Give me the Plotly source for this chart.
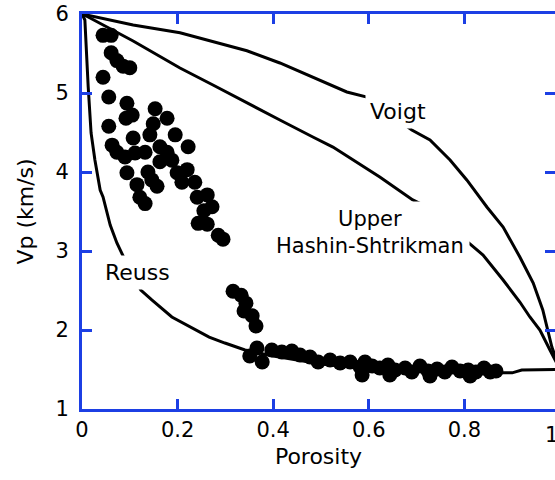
import plotly.graph_objects as go

# Voigt bound (Vp vs porosity)
voigt_phi = [0.0, 0.107, 0.205, 0.274, 0.345, 0.414, 0.483, 0.554, 0.596, 0.690,
             0.728, 0.770, 0.805, 0.847, 0.881, 0.916, 0.944, 0.964, 0.983, 1.0]
voigt_vp = [6.0, 5.861, 5.763, 5.649, 5.535, 5.380, 5.203, 5.013, 4.949, 4.532,
            4.405, 4.152, 3.899, 3.557, 3.304, 2.924, 2.595, 2.253, 1.785, 1.5]

# Upper Hashin-Shtrikman bound
hs_phi = [0.0, 0.013, 0.107, 0.205, 0.274, 0.345, 0.414, 0.483, 0.525, 0.623,
          0.692, 0.718, 0.839, 0.881, 0.916, 0.937, 0.958, 0.979, 1.0]
hs_vp = [6.0, 5.962, 5.658, 5.316, 5.101, 4.873, 4.658, 4.443, 4.316, 3.937,
         3.646, 3.57, 2.949, 2.633, 2.354, 2.165, 2.0, 1.747, 1.5]

# Reuss bound
reuss_phi = [0.0, 0.006, 0.013, 0.019, 0.027, 0.038, 0.044, 0.059, 0.073, 0.090,
             0.123, 0.146, 0.188, 0.230, 0.266, 0.299, 0.341, 0.4, 0.5, 0.6,
             0.7, 0.8, 0.87, 0.9, 0.92, 1.0]
reuss_vp = [6.0, 5.924, 5.076, 4.494, 4.152, 3.772, 3.684, 3.329, 3.101, 2.886,
            2.506, 2.380, 2.165, 2.025, 1.911, 1.835, 1.747, 1.67, 1.57, 1.51,
            1.48, 1.46, 1.456, 1.458, 1.494, 1.5]

# Measured samples
sample_phi = [0.044, 0.061, 0.061, 0.073, 0.086, 0.100, 0.044, 0.056, 0.094, 0.105,
              0.092, 0.153, 0.178, 0.149, 0.142, 0.056, 0.107, 0.063, 0.073, 0.090,
              0.111, 0.132, 0.163, 0.195, 0.222, 0.178, 0.163, 0.188, 0.199, 0.220,
              0.236, 0.209, 0.094, 0.115, 0.138, 0.146, 0.157, 0.121, 0.132, 0.241,
              0.262, 0.272, 0.255, 0.243, 0.262, 0.285, 0.295,
              0.316, 0.333, 0.343, 0.339, 0.356, 0.364,
              0.366, 0.351, 0.377, 0.397, 0.418, 0.439, 0.456, 0.477, 0.494, 0.519,
              0.540, 0.561, 0.582, 0.592, 0.607, 0.623, 0.640, 0.655, 0.676, 0.690,
              0.707, 0.724, 0.743, 0.759, 0.774, 0.791, 0.808, 0.824, 0.841, 0.854,
              0.866, 0.586, 0.644, 0.728, 0.812]
sample_vp = [5.73, 5.73, 5.51, 5.41, 5.34, 5.32, 5.20, 4.95, 4.87, 4.72,
             4.68, 4.80, 4.68, 4.61, 4.47, 4.58, 4.43, 4.34, 4.25, 4.19,
             4.24, 4.25, 4.32, 4.47, 4.32, 4.25, 4.13, 4.15, 3.99, 4.03,
             3.87, 3.87, 3.99, 3.84, 4.00, 3.90, 3.82, 3.68, 3.60, 3.68,
             3.71, 3.56, 3.51, 3.35, 3.34, 3.20, 3.15,
             2.49, 2.44, 2.34, 2.24, 2.18, 2.05,
             1.772, 1.671, 1.595, 1.747, 1.722, 1.734, 1.684, 1.658, 1.595, 1.620,
             1.582, 1.595, 1.532, 1.595, 1.544, 1.519, 1.557, 1.494, 1.519, 1.468,
             1.544, 1.481, 1.506, 1.468, 1.532, 1.481, 1.494, 1.468, 1.519, 1.468,
             1.481, 1.430, 1.430, 1.418, 1.418]

x_ticks = [0, 0.2, 0.4, 0.6, 0.8]
x_tick_text = ["0", "0.2", "0.4", "0.6", "0.8"]
y_ticks = [1, 2, 3, 4, 5, 6]

blue = "#1c3fe4"
family = "DejaVu Sans"
x_max_shown = 473 / 478  # plot runs just past the window edge toward porosity 1

fig = go.Figure()
for phi, vp in [(voigt_phi, voigt_vp), (hs_phi, hs_vp), (reuss_phi, reuss_vp)]:
    fig.add_trace(go.Scatter(x=phi, y=vp, mode="lines",
                             line=dict(color="black", width=3),
                             hoverinfo="skip", showlegend=False))
fig.add_trace(go.Scatter(x=sample_phi, y=sample_vp, mode="markers",
                         marker=dict(color="black", size=15, line=dict(width=0)),
                         showlegend=False))
# empty trace so the mirrored right-hand tick axis is drawn
fig.add_trace(go.Scatter(x=[], y=[], yaxis="y2", showlegend=False))

axis_common = dict(ticks="inside", ticklen=10, tickwidth=2.5, tickcolor=blue,
                   showgrid=False, zeroline=False)

fig.update_layout(
    width=555, height=480,
    margin=dict(l=82, r=0, t=14, b=71),
    plot_bgcolor="white", paper_bgcolor="white",
    font=dict(family=family, size=21, color="black"),
    xaxis=dict(range=[0, x_max_shown], tickvals=x_ticks, ticktext=x_tick_text,
               showline=True, linecolor=blue, linewidth=3, mirror="ticks",
               title=dict(text="Porosity", font=dict(size=22), standoff=8),
               **axis_common),
    yaxis=dict(range=[1, 6], tickvals=y_ticks, showline=True, linecolor=blue,
               linewidth=3, ticklabelstandoff=6,
               title=dict(text="Vp (km/s)", font=dict(size=22), standoff=16),
               **axis_common),
    yaxis2=dict(range=[1, 6], tickvals=y_ticks, overlaying="y", side="right",
                anchor="x", showline=False, showticklabels=False, **axis_common),
)

label_font = dict(family=family, size=22, color="black")
fig.add_annotation(x=0.117, y=2.73, text="Reuss", showarrow=False,
                   bgcolor="white", borderpad=4, font=label_font)
fig.add_annotation(x=0.661, y=4.77, text="Voigt", showarrow=False,
                   bgcolor="white", borderpad=4, font=label_font)
fig.add_annotation(x=0.6025, y=3.24, text="Upper<br>Hashin-Shtrikman",
                   showarrow=False, bgcolor="white", borderpad=5, align="center",
                   font=dict(family=family, size=21, color="black"))
# tick label for porosity 1, cut by the right edge
fig.add_annotation(x=1.0 / x_max_shown, xref="paper", y=0, yref="paper",
                   text="1", showarrow=False, yanchor="middle", yshift=-26,
                   font=dict(family=family, size=21, color="black"))

fig.write_html("out.html")
